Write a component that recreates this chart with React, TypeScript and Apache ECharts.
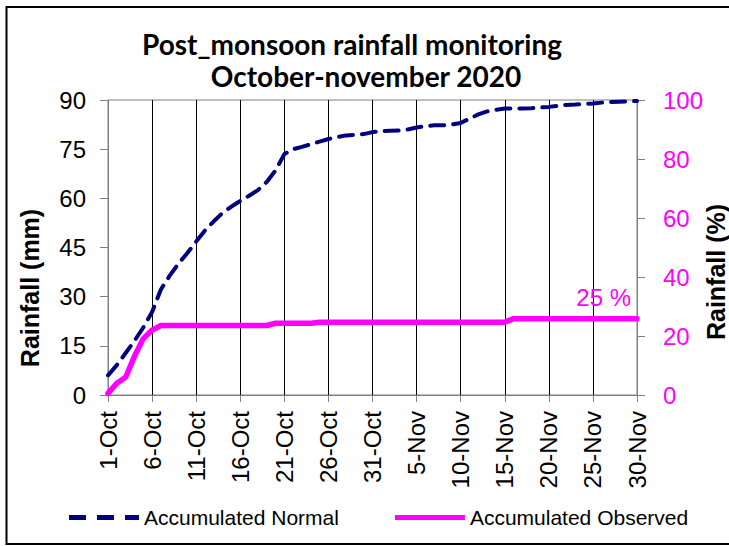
import React, { useEffect, useRef } from "react";
import * as echarts from "echarts";

const categories = [
  "1-Oct","2-Oct","3-Oct","4-Oct","5-Oct","6-Oct","7-Oct","8-Oct","9-Oct","10-Oct",
  "11-Oct","12-Oct","13-Oct","14-Oct","15-Oct","16-Oct","17-Oct","18-Oct","19-Oct","20-Oct",
  "21-Oct","22-Oct","23-Oct","24-Oct","25-Oct","26-Oct","27-Oct","28-Oct","29-Oct","30-Oct",
  "31-Oct","1-Nov","2-Nov","3-Nov","4-Nov","5-Nov","6-Nov","7-Nov","8-Nov","9-Nov",
  "10-Nov","11-Nov","12-Nov","13-Nov","14-Nov","15-Nov","16-Nov","17-Nov","18-Nov","19-Nov",
  "20-Nov","21-Nov","22-Nov","23-Nov","24-Nov","25-Nov","26-Nov","27-Nov","28-Nov","29-Nov",
  "30-Nov"
];

// Accumulated normal rainfall (mm)
const normalMm = [
  6.0, 9.1, 12.8, 16.5, 20.6, 25.3, 32.2, 36.4, 40.1, 43.3,
  46.8, 50.2, 53.0, 55.6, 57.5, 59.2, 60.8, 62.5, 65.0, 68.5,
  73.5, 75.0, 75.7, 76.5, 77.3, 78.1, 78.7, 79.2, 79.4, 79.6,
  80.2, 80.5, 80.6, 80.7, 81.0, 81.6, 82.0, 82.3, 82.3, 82.5,
  83.0, 84.3, 85.6, 86.5, 87.0, 87.4, 87.4, 87.4, 87.5, 87.7,
  87.9, 88.2, 88.5, 88.6, 88.8, 88.9, 89.2, 89.4, 89.5, 89.6,
  89.7
];

// Accumulated observed rainfall (mm)
const observedMm = [
  0.5, 3.6, 5.4, 11.8, 17.2, 19.8, 21.2, 21.2, 21.2, 21.2,
  21.2, 21.2, 21.2, 21.2, 21.2, 21.2, 21.2, 21.2, 21.2, 21.9,
  21.9, 21.9, 21.9, 21.9, 22.2, 22.2, 22.2, 22.2, 22.2, 22.2,
  22.2, 22.2, 22.2, 22.2, 22.2, 22.2, 22.2, 22.2, 22.2, 22.2,
  22.2, 22.2, 22.2, 22.2, 22.2, 22.2, 23.3, 23.3, 23.3, 23.3,
  23.3, 23.3, 23.3, 23.3, 23.3, 23.3, 23.3, 23.3, 23.3, 23.3,
  23.3
];

const percentLabel = "25 %";
const titleLines = ["Post_monsoon rainfall monitoring", "October-november 2020"];
const leftAxisName = "Rainfall (mm)";
const rightAxisName = "Rainfall (%)";
const seriesNames = ["Accumulated Normal", "Accumulated Observed"];

const AR = "'Liberation Sans', Arial, sans-serif";
const GRAY = "#808080";
const NAVY = "#000080";
const MAGENTA = "#FF00FF";

const DASH_ICON = "path://M0,0h17v5h-17z M28,0h17v5h-17z M56,0h14v5h-14z";
const SOLID_ICON = "path://M0,0h70v5h-70z";

export default function App() {
  const ref = useRef<HTMLDivElement>(null);
  useEffect(() => {
    if (!ref.current) return;
    const chart = echarts.init(ref.current, null, { renderer: "svg" });
    const last = observedMm.length - 1;
    chart.setOption({
      animation: false,
      backgroundColor: "#ffffff",
      grid: {
        left: 108,
        right: 92,
        top: 100,
        bottom: 151,
        show: true,
        borderColor: GRAY,
        borderWidth: 1,
        containLabel: false,
      },
      graphic: [
        {
          type: "rect",
          shape: { x: 6.5, y: 7, width: 740, height: 537 },
          style: { fill: "none", stroke: "#000", lineWidth: 2 },
          silent: true,
        },
        {
          type: "text",
          x: 352,
          y: 44,
          style: {
            text: titleLines[0],
            font: "bold 28px Lato, sans-serif",
            fill: "#000",
            align: "center",
            verticalAlign: "middle",
          },
        },
        {
          type: "text",
          x: 366,
          y: 76,
          style: {
            text: titleLines[1],
            font: "bold 28px Lato, sans-serif",
            fill: "#000",
            align: "center",
            verticalAlign: "middle",
          },
        },
        {
          type: "text",
          x: 30,
          y: 288,
          rotation: Math.PI / 2,
          style: {
            text: leftAxisName,
            font: "bold 25px 'Liberation Sans', Arial, sans-serif",
            fill: "#000",
            align: "center",
            verticalAlign: "middle",
          },
        },
        {
          type: "text",
          x: 716,
          y: 272,
          rotation: Math.PI / 2,
          style: {
            text: rightAxisName,
            font: "bold 25px 'Liberation Sans', Arial, sans-serif",
            fill: "#000",
            align: "center",
            verticalAlign: "middle",
          },
        },
      ],
      legend: {
        data: [
          { name: seriesNames[0], icon: DASH_ICON, itemStyle: { color: NAVY } },
          { name: seriesNames[1], icon: SOLID_ICON, itemStyle: { color: MAGENTA } },
        ],
        left: 64,
        top: 502,
        itemWidth: 70,
        itemHeight: 5,
        itemGap: 56,
        textStyle: { fontFamily: AR, fontSize: 21, color: "#000" },
      },
      xAxis: {
        type: "category",
        data: categories,
        boundaryGap: false,
        axisLine: { show: true, lineStyle: { color: GRAY, width: 1 } },
        axisTick: { show: true, interval: 4, length: 7, lineStyle: { color: GRAY } },
        axisLabel: {
          interval: 4,
          rotate: 90,
          margin: 16,
          fontFamily: AR,
          fontSize: 24,
          color: "#000",
        },
        splitLine: { show: true, interval: 4, lineStyle: { color: "#000", width: 1 } },
      },
      yAxis: [
        {
          type: "value",
          min: 0,
          max: 90,
          interval: 15,
          axisLine: { show: true, lineStyle: { color: GRAY } },
          axisTick: { show: true, length: 8, lineStyle: { color: GRAY } },
          axisLabel: { margin: 22, fontFamily: AR, fontSize: 24, color: "#000" },
          splitLine: { show: false },
        },
        {
          type: "value",
          min: 0,
          max: 100,
          interval: 20,
          position: "right",
          axisLine: { show: true, lineStyle: { color: GRAY } },
          axisTick: { show: true, length: 8, lineStyle: { color: GRAY } },
          axisLabel: { margin: 26, fontFamily: AR, fontSize: 24, color: MAGENTA },
          splitLine: { show: false },
        },
      ],
      series: [
        {
          name: seriesNames[0],
          type: "line",
          yAxisIndex: 0,
          data: normalMm,
          symbol: "none",
          lineStyle: { color: NAVY, width: 4, type: [14, 9], cap: "round" },
          itemStyle: { color: NAVY },
        },
        {
          name: seriesNames[1],
          type: "line",
          yAxisIndex: 0,
          data: observedMm,
          symbol: "none",
          lineStyle: { color: MAGENTA, width: 5.5, cap: "round" },
          itemStyle: { color: MAGENTA },
          z: 3,
          markPoint: {
            symbol: "circle",
            symbolSize: 0,
            silent: true,
            data: [
              {
                coord: [categories[last], observedMm[last]],
                label: {
                  show: true,
                  formatter: percentLabel,
                  position: "top",
                  align: "right",
                  offset: [-6, -4],
                  color: MAGENTA,
                  fontSize: 24,
                  fontFamily: AR,
                },
              },
            ],
          },
        },
      ],
    });
    return () => chart.dispose();
  }, []);
  return (
    <div
      ref={ref}
      style={{ position: "fixed", left: 0, top: 0, width: 729, height: 546 }}
    />
  );
}
